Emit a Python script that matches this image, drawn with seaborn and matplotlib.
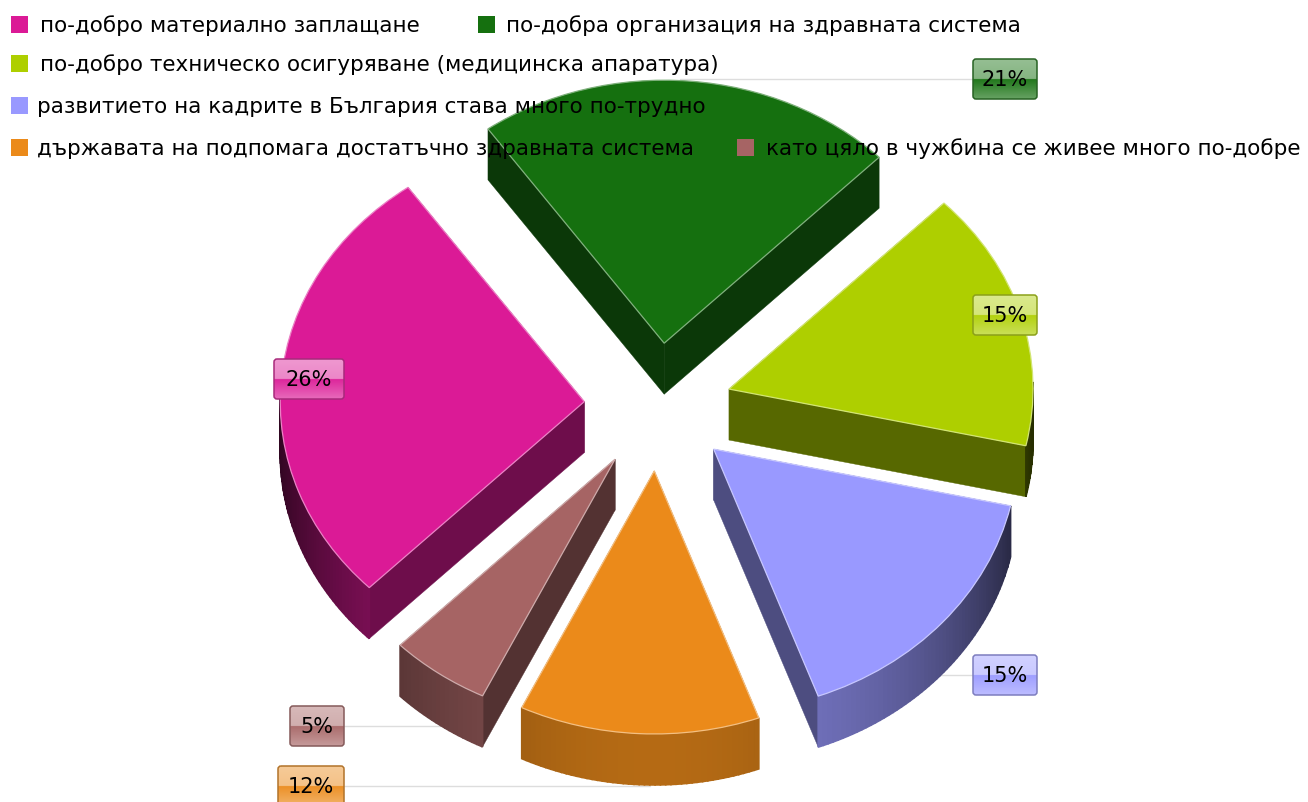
import numpy as np
import matplotlib
matplotlib.use("Agg")
import matplotlib.pyplot as plt
from matplotlib.patches import FancyBboxPatch, Rectangle
import seaborn as sns

categories = [
    "по-добро материално заплащане",
    "по-добра организация на здравната система",
    "по-добро техническо осигуряване (медицинска апаратура)",
    "развитието на кадрите в България става много по-трудно",
    "държавата на подпомага достатъчно здравната система",
    "като цяло в чужбина се живее много по-добре",
]
values = [26, 21, 15, 15, 12, 5]
hex_colors = ["#DB1A96", "#15700F", "#AECF00", "#9999FF", "#EB8A1A", "#A66464"]

# layout, in pixels of the 1308x803 picture
W, H = 1308, 803
CX, CY, RX, RY = 658, 408, 304, 263
DEPTH = 51 / RY
EXPLODE = 74 / RX

# legend: x of square, x of text, y
legend_pos = [(11, 40, 27), (478, 506, 27), (11, 40, 66), (11, 37, 108), (11, 37, 150), (737, 766, 150)]
# label boxes: left, right, y centre, leader line end (None = no leader)
label_pos = [(274, 344, 380, None), (973, 1037, 80, 680), (973, 1037, 316, None),
             (973, 1037, 676, 940), (278, 344, 787, 650), (290, 344, 727, 440)]

sns.set_theme(style="white")
plt.rcParams["font.family"] = ["DejaVu Sans"]
palette = sns.color_palette(hex_colors)

fig = plt.figure(figsize=(W / 100, H / 100), dpi=100, facecolor="white")
ax = fig.add_axes([0, 0, 1, 1], zorder=1)
ov = fig.add_axes([0, 0, 1, 1], zorder=2)
ov.patch.set_alpha(0)
ov.axis("off")

wedges, _ = ax.pie(values, colors=palette, startangle=225, counterclock=False,
                   explode=[EXPLODE] * len(values), radius=1,
                   wedgeprops={"linewidth": 0.9})
ax.set_aspect("auto")
ax.set_xlim(-CX / RX, (W - CX) / RX)
ax.set_ylim(-(H - CY) / RY, CY / RY)


def shaded(color, s):
    return tuple(np.array(color) * s)


def rim_shade(deg):
    return 0.22 + 0.55 * max(0.0, -np.sin(np.radians(deg))) ** 1.5


for w, col in zip(wedges, palette):
    w.set_zorder(3)
    w.set_edgecolor(tuple(np.array(col) * 0.55 + 0.45))
    x0, y0 = w.center
    # straight cut faces
    for deg in (w.theta1, w.theta2):
        ex = x0 + np.cos(np.radians(deg))
        ey = y0 + np.sin(np.radians(deg))
        face = shaded(col, 0.5)
        ax.fill([x0, ex, ex, x0], [y0, ey, ey - DEPTH, y0 - DEPTH],
                color=face, lw=0.3, zorder=1)
    # outer rim, in thin strips so it gets the horizontal shading
    steps = np.arange(w.theta1, w.theta2 + 1, 1.0)
    steps = np.append(steps[:-1], w.theta2)
    for a, b in zip(steps[:-1], steps[1:]):
        if np.sin(np.radians((a + b) / 2)) > 0.02:
            continue
        xa, xb = x0 + np.cos(np.radians(a)), x0 + np.cos(np.radians(b))
        ya, yb = y0 + np.sin(np.radians(a)), y0 + np.sin(np.radians(b))
        ax.fill([xa, xb, xb, xa], [ya, yb, yb - DEPTH, ya - DEPTH],
                color=shaded(col, rim_shade((a + b) / 2)), lw=1.2, zorder=2)

# legend, laid out in rows over the chart
for name, col, (sx, tx, y) in zip(categories, palette, legend_pos):
    ov.add_patch(Rectangle((sx, y - 10), 17, 17, color=col, lw=0))
    ov.text(tx, y - 1, name, fontsize=15.5, color="black", va="center", ha="left")

# value labels: glossy rounded boxes
for val, col, (left, right, y, end) in zip(values, palette, label_pos):
    top, bottom = y - 20, y + 20
    if end is not None:
        ax.plot([left if end < left else right, end], [y, y], transform=ov.transData,
                color="#dddddd", lw=1.0, zorder=0, clip_on=False)
    c = np.array(col)
    t = np.linspace(0, 1, 80)[:, None]
    ramp = np.where(t < 0.5, 0.55 - 0.15 * t, 0.05 + 0.6 * (t - 0.5))
    grad = (c * (1 - ramp) + ramp)[:, None, :]
    box = FancyBboxPatch((left + 2, top + 2), right - left - 4, bottom - top - 4,
                         boxstyle="round,pad=2,rounding_size=3", facecolor="none",
                         edgecolor=tuple(c * 0.65 + 0.1), lw=1.1, zorder=5)
    ov.add_patch(box)
    im = ov.imshow(grad, extent=(left, right, bottom, top), aspect="auto", zorder=4)
    im.set_clip_path(box)
    ov.text((left + right) / 2, y, f"{val}%", fontsize=15, color="black",
            ha="center", va="center", zorder=6)

ov.set_xlim(0, W)
ov.set_ylim(H, 0)

plt.savefig("out.png", dpi=100)
